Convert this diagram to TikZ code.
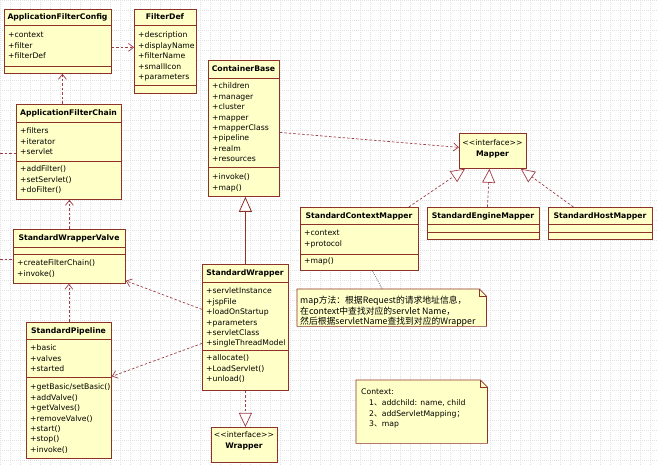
\documentclass[tikz,border=0pt]{standalone}
\usepackage{fontspec}
\setmainfont{DejaVu Sans}
\newfontfamily\cjk{Noto Sans CJK SC}
\usetikzlibrary{arrows.meta,calc}
\definecolor{umlfill}{RGB}{255,255,200}
\definecolor{umlline}{RGB}{140,50,40}
\definecolor{depline}{RGB}{160,60,70}
\tikzset{
  box/.style={draw=umlline, fill=umlfill, line width=0.8pt, inner sep=0pt, anchor=north west},
  sepline/.style={draw=umlline, line width=0.8pt},
  txt/.style={inner sep=0pt, font=\fontsize{7.7}{9}\selectfont, anchor=base west},
  head/.style={inner sep=0pt, font=\fontsize{7.7}{9}\selectfont\bfseries, anchor=base},
  stereo/.style={inner sep=0pt, font=\fontsize{7.7}{9}\selectfont, anchor=base},
  notetxt/.style={inner sep=0pt, font=\cjk\fontsize{8.8}{10}\selectfont, anchor=base west},
  dep/.style={draw=depline, line width=0.7pt, dash pattern=on 2.5pt off 2pt, -{Straight Barb[length=5pt,width=8pt]}},
  real/.style={draw=depline, line width=0.7pt, dash pattern=on 2.5pt off 2pt, -{Triangle[length=14pt,width=13pt,fill=white]}},
  gen/.style={draw=umlline, line width=0.8pt, -{Triangle[length=15pt,width=13pt,fill=white]}},
  link/.style={draw=depline, line width=0.7pt, dash pattern=on 2.5pt off 2pt},
  notelink/.style={draw=black!60, line width=0.7pt, dash pattern=on 0.8pt off 1.2pt},
  gridline/.style={draw=black!12, line width=0.3pt, dash pattern=on 0.5pt off 1.5pt},
  notebox/.style={draw=umlline, fill=umlfill, line width=0.7pt},
}
% name, x1, y1, x2, y2, sep1, sep2, title
\newcommand\umlclass[8]{%
  \node[box, minimum width=#4pt-#2pt, minimum height=#5pt-#3pt] (#1) at (#2,#3) {};
  \draw[sepline] (#2,#6) -- (#4,#6);
  \draw[sepline] (#2,#7) -- (#4,#7);
  \node[head] (#1-t) at ({(#2+#4)/2},{(#3+#6)/2+3}) {#8};
}
% prefix, x, first baseline, list
\newcommand\umlrows[4]{%
  \foreach \rowtext [count=\i from 0] in {#4} {\node[txt] (#1-\i) at (#2,{#3+10.35*\i}) {\rowtext};}
}
\newcommand\ster[1]{<\kern0pt<#1>\kern0pt>}
\newcommand\zh[1]{{\cjk #1}}
\begin{document}
\begin{tikzpicture}[x=1pt,y=-1pt]
\useasboundingbox (0,0) rectangle (657,465);
\fill[white] (0,0) rectangle (657,465);
\draw[gridline] (0,0) grid[step=10pt] (657,465);

% classes
\umlclass{afconfig}{4}{9}{111}{73}{25}{66}{ApplicationFilterConfig}
\umlrows{afconfig-a}{8}{38}{+context,+filter,+filterDef}

\umlclass{filterdef}{134}{9}{196}{93}{25}{85}{FilterDef}
\umlrows{filterdef-a}{138}{38}{+description,+displayName,+filterName,+smallIcon,+parameters}

\umlclass{afchain}{16}{104}{121}{199}{122}{161}{ApplicationFilterChain}
\umlrows{afchain-a}{20}{134}{+filters,+iterator,+servlet}
\umlrows{afchain-m}{20}{172}{+addFilter(),+setServlet(),+doFilter()}

\umlclass{swvalve}{13}{229}{125}{283}{247}{254}{StandardWrapperValve}
\umlrows{swvalve-m}{17}{266}{+createFilterChain(),+invoke()}

\umlclass{spipeline}{26}{322}{111}{458}{339}{377}{StandardPipeline}
\umlrows{spipeline-a}{30}{351}{+basic,+valves,+started}
\umlrows{spipeline-m}{30}{390}{+getBasic/setBasic(),+addValve(),+getValves(),+removeValve(),+start(),+stop(),+invoke()}

\umlclass{cbase}{208}{60}{279}{196}{78}{167}{ContainerBase}
\umlrows{cbase-a}{212}{89}{+children,+manager,+cluster,+mapper,+mapperClass,+pipeline,+realm,+resources}
\umlrows{cbase-m}{212}{180}{+invoke(),+map()}

\umlclass{swrapper}{202}{264}{288}{390}{282}{350}{StandardWrapper}
\umlrows{swrapper-a}{206}{294}{+servletInstance,+jspFile,+loadOnStartup,+parameters,+servletClass,+singleThreadModel}
\umlrows{swrapper-m}{206}{361}{+allocate(),+LoadServlet(),+unload()}

\umlclass{scmapper}{300}{207}{418}{270}{224}{254}{StandardContextMapper}
\umlrows{scmapper-a}{304}{236}{+context,+protocol}
\umlrows{scmapper-m}{304}{264}{+map()}

\umlclass{semapper}{427}{207}{539}{239}{224}{232}{StandardEngineMapper}
\umlclass{shmapper}{548}{207}{652}{239}{224}{232}{StandardHostMapper}

% interfaces
\node[box, minimum width=66pt, minimum height=35pt] (wrapper) at (211,427) {};
\node[stereo] (wrapper-s) at (244,438) {\ster{interface}};
\node[head] (wrapper-t) at (244,449) {Wrapper};

\node[box, minimum width=67pt, minimum height=35pt] (mapper) at (459,133) {};
\node[stereo] (mapper-s) at (492.5,146) {\ster{interface}};
\node[head] (mapper-t) at (492.5,157) {Mapper};

% notes
\node[inner sep=0pt, minimum width=189pt, minimum height=37pt, anchor=north west] (mapnote) at (297,289) {};
\draw[notebox] (mapnote.north west) -- ([xshift=-7pt]mapnote.north east) -- ([yshift=-7pt]mapnote.north east) -- (mapnote.south east) -- (mapnote.south west) -- cycle;
\draw[umlline, line width=0.6pt] ([xshift=-7pt]mapnote.north east) -- ++(0pt,-7pt) -- ([yshift=-7pt]mapnote.north east);
\node[notetxt] (mapnote-0) at (300,304) {map方法：根据Request的请求地址信息，};
\node[notetxt] (mapnote-1) at (300,314.5) {在context中查找对应的servlet Name，};
\node[notetxt] (mapnote-2) at (300,325) {然后根据servletName查找到对应的Wrapper};

\node[inner sep=0pt, minimum width=131pt, minimum height=63pt, anchor=north west] (ctxnote) at (356,380) {};
\draw[notebox] (ctxnote.north west) -- ([xshift=-7pt]ctxnote.north east) -- ([yshift=-7pt]ctxnote.north east) -- (ctxnote.south east) -- (ctxnote.south west) -- cycle;
\draw[umlline, line width=0.6pt] ([xshift=-7pt]ctxnote.north east) -- ++(0pt,-7pt) -- ([yshift=-7pt]ctxnote.north east);
\node[txt] (ctxnote-0) at (361,395) {Context:};
\node[txt] (ctxnote-1) at (369,406) {1\zh{、}addchild: name, child};
\node[txt] (ctxnote-2) at (369,416.3) {2\zh{、}addServletMapping\zh{；}};
\node[txt] (ctxnote-3) at (369,426.6) {3\zh{、}map};

% connectors
\coordinate (lefta) at (0,153);
\coordinate (leftb) at (0,259);
\draw[link] (lefta) -- (lefta -| afchain.west);
\draw[link] (leftb) -- (leftb -| swvalve.west);

\draw[dep] ([yshift=-6pt]afconfig.east) -- ([yshift=-6pt]afconfig.east -| filterdef.west);
\draw[dep] ([xshift=-6.5pt]afchain.north) -- ([xshift=-6.5pt]afchain.north |- afconfig.south);
\draw[dep] (swvalve.north) -- (swvalve.north |- afchain.south);
\draw[dep] (spipeline.north) -- (spipeline.north |- swvalve.south);
\draw[dep] ([yshift=18pt]swrapper.west) -- ([yshift=3pt]swvalve.south east);
\draw[dep] ([yshift=-16pt]swrapper.west) -- ([yshift=14pt]spipeline.east);
\draw[gen] (swrapper.north) -- (swrapper.north |- cbase.south);
\draw[real] (swrapper.south) -- (swrapper.south |- wrapper.north);
\draw[dep] ([yshift=-4pt]cbase.east) -- ([yshift=3.5pt]mapper.west);
\draw[real] ([xshift=-10pt]scmapper.north east) -- ([xshift=6pt]mapper.south west);
\draw[real] ([xshift=4pt]semapper.north) -- ([xshift=-3.5pt]mapper.south);
\draw[real] ([xshift=-27pt]shmapper.north) -- ([xshift=-6pt]mapper.south east);
\draw[notelink] ([xshift=13pt]scmapper.south) -- ([xshift=-9.5pt]mapnote.north);
\end{tikzpicture}
\end{document}
